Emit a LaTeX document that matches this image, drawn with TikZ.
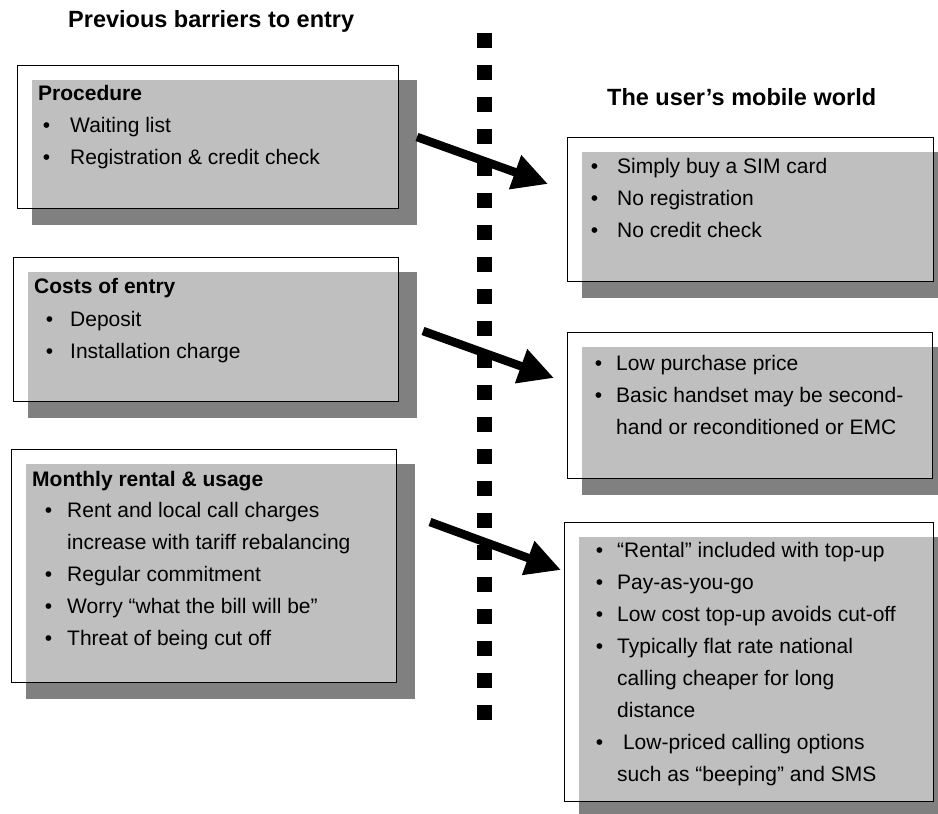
\documentclass[tikz,border=0pt]{standalone}
\usepackage{fontspec}
\setmainfont{Liberation Sans}
\usetikzlibrary{arrows.meta,backgrounds}
\definecolor{shadowgray}{RGB}{128,128,128}
\newcommand{\bul}[1][17pt]{\llap{\textbullet\hspace{#1}}}

\begin{document}
\begin{tikzpicture}[
    x=1pt, y=-1pt,
    panel/.style={
      rectangle,
      draw=black,
      line width=1.3pt,
      fill=white,
      fill opacity=0.5,
      anchor=north west,
      inner sep=0pt
    },
    backdrop/.style={fill=shadowgray},
    heading/.style={
      anchor=base west,
      inner sep=0pt,
      font=\fontsize{23.5}{28}\selectfont\bfseries
    },
    boxhead/.style={
      anchor=base west,
      inner sep=0pt,
      font=\fontsize{21}{32}\selectfont\bfseries
    },
    list/.style={
      anchor=north west,
      inner sep=0pt,
      align=left,
      font=\fontsize{21}{32}\selectfont
    },
    push/.style={line width=8.5pt, -{Triangle[length=35pt,width=34pt]}},
    sq/.style={fill=black}
  ]
    \useasboundingbox (0,0) rectangle (938,814);

    % Column titles
    \node[heading] (oldT) at (68,27) {Previous barriers to entry};
    \node[heading] (newT) at (607,105) {The user’s mobile world};

    % Dividing line
    \foreach \k in {0,...,21}
      \fill[sq] (477,{33+32*\k}) rectangle +(15,15);

    % Left panels
    \node[panel, minimum width=381pt, minimum height=143pt] (proc) at (17,65) {};
    \node[panel, minimum width=385pt, minimum height=144pt] (cost) at (13,257) {};
    \node[panel, minimum width=385pt, minimum height=233pt] (rent) at (11,449) {};

    % Right panels
    \node[panel, minimum width=366pt, minimum height=144pt] (sim) at (567,137) {};
    \node[panel, minimum width=365pt, minimum height=146pt] (hand) at (567,332) {};
    \node[panel, minimum width=369pt, minimum height=279pt] (topup) at (564,522) {};

    % Shadows
    \begin{scope}[on background layer]
      \foreach \b in {proc,cost,rent,sim,hand,topup}
        \fill[backdrop] ([shift={(15,15)}]\b.north west) rectangle ([shift={(18,16)}]\b.south east);
    \end{scope}

    % Procedure
    \node[boxhead] (procH) at (38,100) {Procedure};
    \node[list] (procL) at (70,117) {\bul[20pt]Waiting list\\
      \bul[20pt]Registration \& credit check};

    % Costs of entry
    \node[boxhead] (costH) at (34,293) {Costs of entry};
    \node[list] (costL) at (70,311) {\bul Deposit\\
      \bul Installation charge};

    % Monthly rental
    \node[boxhead] (rentH) at (32,486) {Monthly rental \& usage};
    \node[list] (rentL) at (67,502) {\bul[15pt]Rent and local call charges\\
      increase with tariff rebalancing\\
      \bul[15pt]Regular commitment\\
      \bul[15pt]Worry “what the bill will be”\\
      \bul[15pt]Threat of being cut off};

    % Mobile side
    \node[list] (simL) at (617,158) {\bul[19pt]Simply buy a SIM card\\
      \bul[19pt]No registration\\
      \bul[19pt]No credit check};
    \node[list] (handL) at (616,355) {\bul[14pt]Low purchase price\\
      \bul[14pt]Basic handset may be second-\\
      hand or reconditioned or EMC};
    \node[list] (topupL) at (617,542) {\bul[14pt]“Rental” included with top-up\\
      \bul[14pt]Pay-as-you-go\\
      \bul[14pt]Low cost top-up avoids cut-off\\
      \bul[14pt]Typically flat rate national\\
      calling cheaper for long\\
      distance\\
      \bul[14pt]\hspace*{0.28em}Low-priced calling options\\
      such as “beeping” and SMS};

    % Arrows across the line
    \coordinate (a1s) at (417,137);
    \coordinate (a1e) at (548,184);
    \coordinate (a2s) at (423,331);
    \coordinate (a2e) at (554,378);
    \coordinate (a3s) at (430,522);
    \coordinate (a3e) at (561,570);
    \draw[push] (a1s) -- (a1e);
    \draw[push] (a2s) -- (a2e);
    \draw[push] (a3s) -- (a3e);

  \end{tikzpicture}
\end{document}
